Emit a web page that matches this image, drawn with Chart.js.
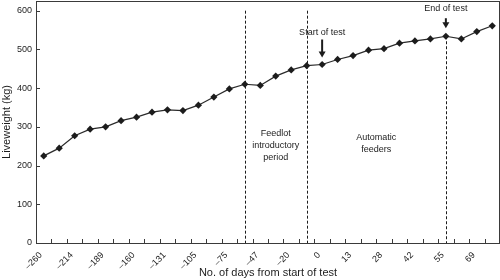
<!DOCTYPE html>
<html>
<head>
<meta charset="utf-8">
<script src="https://cdn.jsdelivr.net/npm/chart.js@4/dist/chart.umd.min.js"></script>
<style>
  html, body { margin: 0; padding: 0; background: #fff; }
  #wrap { width: 500px; height: 280px; position: relative; }
</style>
</head>
<body>
<div id="wrap"><canvas id="weightChart"></canvas></div>
<script>
// Days from start of test (every other category is labelled)
const dayLabels = [
  "–260", "", "–214", "", "–189", "", "–160", "", "–131", "", "–105", "",
  "–75", "", "–47", "", "–20", "", "0", "", "13", "", "28", "", "42", "",
  "55", "", "69", ""
];

// Liveweight (kg)
const liveweight = [
  225, 245, 277, 294, 300, 316, 325, 338, 344, 342, 356, 377, 398, 410, 407,
  431, 447, 458, 461, 474, 484, 498, 502, 516, 522, 527, 534, 527, 546, 561
];

const yTickStep = 100;
const yMax = 625;

// vertical dashed period boundaries (category index, value where the line starts)
const periodIndex = [13, 17, 26];
const periodFrom = [600, 600, liveweight[26]];

const periodText = [
  { lines: ["Feedlot", "introductory", "period"], from: 13, to: 17, y: 282 },
  { lines: ["Automatic", "feeders"], from: 17, to: 26, y: 273 }
];

const testMarks = [
  { index: 18, text: "Start of test", gap: 7, length: 18, textGap: 7 },
  { index: 26, text: "End of test", gap: 8, length: 10, textGap: 10 }
];

const ink = "#1c1c1c";
const axisInk = "#3a3a3a";
const font = "'Liberation Sans', Arial, Helvetica, sans-serif";

const decorations = {
  id: "decorations",
  beforeDatasetsDraw(chart) {
    const { ctx, chartArea: a, scales: { x, y } } = chart;
    ctx.save();
    ctx.strokeStyle = ink;
    ctx.lineWidth = 1;
    ctx.setLineDash([3, 2]);
    periodIndex.forEach((idx, i) => {
      const px = Math.round(x.getPixelForValue(idx)) + 0.5;
      ctx.beginPath();
      ctx.moveTo(px, y.getPixelForValue(periodFrom[i]));
      ctx.lineTo(px, a.bottom);
      ctx.stroke();
    });
    ctx.restore();
  },
  afterDraw(chart) {
    const { ctx, chartArea: a, scales: { x, y } } = chart;
    ctx.save();
    // box
    ctx.strokeStyle = axisInk;
    ctx.lineWidth = 1;
    ctx.strokeRect(a.left + 0.5, a.top + 0.5, a.right - a.left - 1, a.bottom - a.top);

    // inward ticks
    ctx.beginPath();
    for (let i = 0; i < dayLabels.length - 1; i++) {
      const px = Math.round((x.getPixelForValue(i) + x.getPixelForValue(i + 1)) / 2) + 0.5;
      ctx.moveTo(px, a.bottom);
      ctx.lineTo(px, a.bottom - 4);
    }
    y.ticks.forEach((t) => {
      const py = Math.round(y.getPixelForValue(t.value)) + 0.5;
      ctx.moveTo(a.left, py);
      ctx.lineTo(a.left + 4, py);
    });
    ctx.stroke();

    // period labels
    ctx.fillStyle = ink;
    ctx.font = "9px " + font;
    ctx.textAlign = "center";
    ctx.textBaseline = "middle";
    periodText.forEach((p) => {
      const cx = (x.getPixelForValue(p.from) + x.getPixelForValue(p.to)) / 2;
      const top = y.getPixelForValue(p.y);
      p.lines.forEach((ln, k) => ctx.fillText(ln, cx, top + k * 12));
    });

    // start / end arrows
    testMarks.forEach((m) => {
      const px = x.getPixelForValue(m.index);
      const tip = y.getPixelForValue(liveweight[m.index]) - m.gap;
      const tail = tip - m.length;
      ctx.strokeStyle = ink;
      ctx.lineWidth = 2;
      ctx.beginPath();
      ctx.moveTo(px, tail);
      ctx.lineTo(px, tip - 5);
      ctx.stroke();
      ctx.beginPath();
      ctx.moveTo(px - 3.5, tip - 6);
      ctx.lineTo(px + 3.5, tip - 6);
      ctx.lineTo(px, tip);
      ctx.closePath();
      ctx.fill();
      ctx.fillText(m.text, px, tail - m.textGap);
    });
    ctx.restore();
  }
};

new Chart(document.getElementById("weightChart"), {
  type: "line",
  data: {
    labels: dayLabels,
    datasets: [{
      data: liveweight,
      borderColor: "#2a2a2a",
      borderWidth: 1.2,
      pointStyle: "rectRot",
      pointRadius: 3.6,
      pointBackgroundColor: ink,
      pointBorderColor: ink,
      pointBorderWidth: 0,
      tension: 0
    }]
  },
  options: {
    responsive: true,
    maintainAspectRatio: false,
    animation: false,
    events: [],
    layout: { autoPadding: false, padding: { top: 1, right: 0, bottom: 0, left: 0 } },
    plugins: { legend: { display: false }, tooltip: { enabled: false } },
    scales: {
      x: {
        type: "category",
        offset: true,
        grid: { display: false, drawTicks: false },
        border: { display: false },
        afterFit: (s) => {
          s.height = 37;
          s.paddingLeft = 0;
          s.paddingRight = 0;
        },
        ticks: {
          autoSkip: false,
          minRotation: 45,
          maxRotation: 45,
          padding: 7,
          labelOffset: -3,
          color: ink,
          font: { family: font, size: 9 }
        },
        title: {
          display: true,
          text: "No. of days from start of test",
          color: ink,
          padding: { top: 0, bottom: 0 },
          font: { family: font, size: 11 }
        }
      },
      y: {
        min: 0,
        max: yMax,
        grid: { display: false, drawTicks: false },
        border: { display: false },
        afterFit: (s) => {
          s.width = 36;
          s.paddingTop = 0;
          s.paddingBottom = 0;
        },
        ticks: {
          stepSize: yTickStep,
          includeBounds: false,
          padding: 4,
          color: ink,
          font: { family: font, size: 9 }
        },
        title: {
          display: true,
          text: "Liveweight (kg)",
          color: ink,
          padding: { top: 0, bottom: 0 },
          font: { family: font, size: 11 }
        }
      }
    }
  },
  plugins: [decorations]
});
</script>
</body>
</html>
